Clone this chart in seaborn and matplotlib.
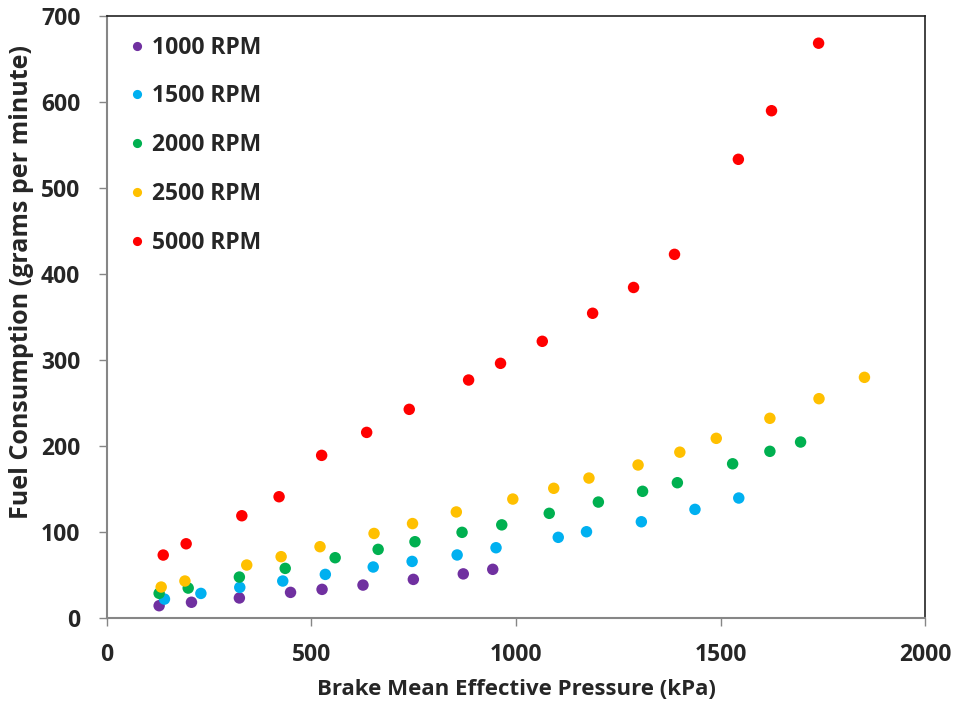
import matplotlib
matplotlib.use("Agg")
import matplotlib.pyplot as plt
import seaborn as sns
import pandas as pd

# ---- data ----
bmep_1000 = [128, 207, 324, 449, 526, 626, 749, 871, 943]
fuel_1000 = [14, 18, 23, 29.5, 33, 38, 44.6, 51, 56.3]

bmep_1500 = [141, 230, 325, 430, 534, 651, 746, 856, 951, 1103, 1172, 1306, 1437, 1544]
fuel_1500 = [21.7, 28.3, 35.3, 42.7, 50.4, 59, 65.5, 73, 81.4, 93.5, 100, 111.6, 126, 139.2]

bmep_2000 = [128, 199, 324, 436, 558, 663, 753, 868, 965, 1081, 1201, 1309, 1394, 1529, 1620, 1695]
fuel_2000 = [28.4, 34.5, 47.3, 57.4, 69.8, 79.5, 88.4, 99.3, 108, 121.4, 134.5, 147, 157, 179, 193.5, 204.3]

bmep_2500 = [133, 191, 342, 426, 521, 653, 747, 854, 992, 1092, 1178, 1298, 1400, 1489, 1620, 1740, 1851]
fuel_2500 = [35.7, 42.7, 61.3, 71, 82.6, 98, 109.5, 123, 138, 150.5, 162.4, 177.6, 192.5, 208.6, 231.9, 254.7, 279.5]

bmep_5000 = [138, 194, 330, 421, 525, 635, 739, 884, 962, 1064, 1187, 1287, 1387, 1543, 1624, 1739]
fuel_5000 = [72.9, 86, 118.6, 140.7, 188.8, 215.5, 242.3, 276.4, 295.8, 321.4, 354, 384, 422.5, 533, 589.5, 668]

series_labels = ["1000 RPM", "1500 RPM", "2000 RPM", "2500 RPM", "5000 RPM"]
series_colors = ["#7030A0", "#00B0F0", "#00B050", "#FFC000", "#FF0000"]

x_ticks = [0, 500, 1000, 1500, 2000]
y_ticks = [0, 100, 200, 300, 400, 500, 600, 700]

frames = []
for lab, xs, ys in zip(series_labels,
                       [bmep_1000, bmep_1500, bmep_2000, bmep_2500, bmep_5000],
                       [fuel_1000, fuel_1500, fuel_2000, fuel_2500, fuel_5000]):
    frames.append(pd.DataFrame({"bmep": xs, "fuel": ys, "speed": lab}))
df = pd.concat(frames, ignore_index=True)

sns.set_style("white")
plt.rcParams['font.family'] = ['Open Sans', 'DejaVu Sans']
plt.rcParams['font.weight'] = 'bold'

fig = plt.figure(figsize=(9.59, 7.06), dpi=100)
ax = fig.add_axes([0.1113, 0.125, 0.965 - 0.1113, 0.9778 - 0.125])

sns.scatterplot(data=df, x="bmep", y="fuel", hue="speed",
                hue_order=series_labels, palette=series_colors,
                s=68, linewidth=0, edgecolor="none", ax=ax, legend=True)

ax.set_xlim(0, 2000)
ax.set_ylim(0, 700)
ax.set_xticks(x_ticks)
ax.set_yticks(y_ticks)
ax.tick_params(axis="both", which="both", direction="out", length=6, width=1,
               color="#868686", labelsize=16.5, bottom=True, left=True)
for lbl in ax.get_xticklabels() + ax.get_yticklabels():
    lbl.set_fontweight("bold")
ax.tick_params(axis="x", pad=12)
ax.tick_params(axis="y", pad=13)

ax.set_xlabel("Brake Mean Effective Pressure (kPa)", fontsize=16, fontweight="bold", labelpad=9)
ax.set_ylabel("Fuel Consumption (grams per minute)", fontsize=18, fontweight="bold")
ax.yaxis.set_label_coords(-0.089, 0.558)

for side in ["left", "bottom"]:
    ax.spines[side].set_color("#868686")
    ax.spines[side].set_linewidth(1.5)
for side in ["top", "right"]:
    ax.spines[side].set_color("#222222")
    ax.spines[side].set_linewidth(1.2)

leg = ax.legend(loc="upper left", bbox_to_anchor=(0.0145, 0.982), frameon=False,
                fontsize=16.5, labelspacing=1.08, handlelength=0.8, handletextpad=0.25,
                markerscale=0.8, borderaxespad=0)
for t in leg.get_texts():
    t.set_fontweight("bold")

fig.savefig("out.png", dpi=100)
